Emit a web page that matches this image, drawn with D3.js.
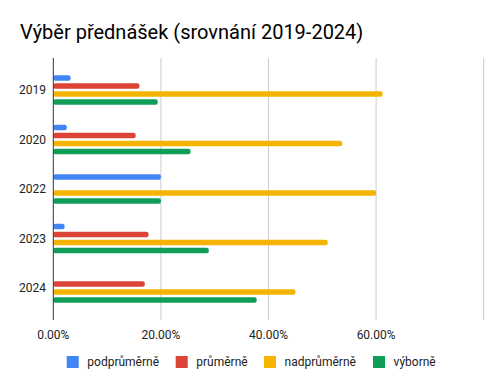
<!DOCTYPE html>
<html>
<head>
<meta charset="utf-8">
<script src="https://cdn.jsdelivr.net/npm/d3@7"></script>
<style>
  body { margin: 0; background: #fff; }
  text { font-family: Roboto, sans-serif; }
</style>
</head>
<body>
<svg id="chart" width="503" height="389"></svg>
<script>
// data (share of answers)
var years = ["2019", "2020", "2022", "2023", "2024"];
var seriesNames = ["podprůměrně", "průměrně", "nadprůměrně", "výborně"];
var podprumerne = [0.032, 0.025, 0.20, 0.021, 0];
var prumerne = [0.160, 0.153, 0, 0.177, 0.170];
var nadprumerne = [0.612, 0.537, 0.600, 0.510, 0.450];
var vyborne = [0.194, 0.255, 0.200, 0.289, 0.378];
var tickValues = [0, 0.2, 0.4, 0.6, 0.8];
var colors = ["#4285f4", "#db4437", "#f4b400", "#0f9d58"];

var allSeries = [podprumerne, prumerne, nadprumerne, vyborne];

var svg = d3.select("#chart");

// plot area (window.top is taken, so prefixed names)
var plotLeft = 53.3, plotRight = 483.7, plotTop = 58, plotBottom = 320;
var groupHeight = 29.7;

var x = d3.scaleLinear().domain([0, 0.8]).range([plotLeft, plotRight]);

// group per year
var y0 = d3.scaleBand().domain(years).range([plotTop, plotBottom])
    .paddingInner(0).paddingOuter(0.146);
// bar inside the group
var y1 = d3.scaleBand().domain(seriesNames).range([0, groupHeight])
    .paddingInner(0.29).paddingOuter(0);

// title
svg.append("text")
    .attr("x", 20)
    .attr("y", 39)
    .attr("font-size", 20)
    .attr("fill", "#000")
    .text("Výběr přednášek (srovnání 2019-2024)");

// grid lines
svg.append("g")
    .selectAll("line")
    .data(tickValues.slice(1))
    .enter()
    .append("line")
        .attr("x1", function (d) { return x(d); })
        .attr("x2", function (d) { return x(d); })
        .attr("y1", plotTop)
        .attr("y2", plotBottom)
        .attr("stroke", "#cccccc")
        .attr("stroke-width", 1);

// bars
var rows = years.map(function (yr, i) {
    return seriesNames.map(function (s, j) {
        return { year: yr, name: s, value: allSeries[j][i], color: colors[j] };
    });
});

var groups = svg.append("g")
    .selectAll("g")
    .data(rows)
    .enter()
    .append("g")
        .attr("transform", function (d, i) {
            return "translate(0," + (y0(years[i]) + y0.bandwidth() / 2 - groupHeight / 2) + ")";
        });

groups.selectAll("rect")
    .data(function (d) { return d.filter(function (b) { return b.value > 0; }); })
    .enter()
    .append("rect")
        .attr("x", x(0))
        .attr("y", function (d) { return y1(d.name); })
        .attr("width", function (d) { return x(d.value) - x(0); })
        .attr("height", y1.bandwidth())
        .attr("rx", 2)
        .attr("fill", function (d) { return d.color; });

// zero axis line
svg.append("line")
    .attr("x1", x(0))
    .attr("x2", x(0))
    .attr("y1", plotTop)
    .attr("y2", plotBottom)
    .attr("stroke", "#333333")
    .attr("stroke-width", 1);

// year labels
svg.append("g")
    .selectAll("text")
    .data(years)
    .enter()
    .append("text")
        .attr("x", 46)
        .attr("y", function (d) { return y0(d) + y0.bandwidth() / 2; })
        .attr("dy", "0.35em")
        .attr("text-anchor", "end")
        .attr("font-size", 12)
        .attr("fill", "#222")
        .text(function (d) { return d; });

// x tick labels (last one is not shown in the original)
svg.append("g")
    .selectAll("text")
    .data(tickValues.slice(0, 4))
    .enter()
    .append("text")
        .attr("x", function (d) { return x(d); })
        .attr("y", 334.5)
        .attr("dy", "0.35em")
        .attr("text-anchor", "middle")
        .attr("font-size", 12)
        .attr("fill", "#222")
        .text(function (d) { return d3.format(".2%")(d); });

// legend
var legendX = [66.7, 175.7, 264, 373];
var legend = svg.append("g")
    .selectAll("g")
    .data(seriesNames)
    .enter()
    .append("g")
        .attr("transform", function (d, i) { return "translate(" + legendX[i] + ",356)"; });

legend.append("rect")
    .attr("width", 12)
    .attr("height", 12)
    .attr("fill", function (d, i) { return colors[i]; });

legend.append("text")
    .attr("x", 20.6)
    .attr("y", 6)
    .attr("dy", "0.35em")
    .attr("font-size", 12)
    .attr("fill", "#222")
    .text(function (d) { return d; });
</script>
</body>
</html>
